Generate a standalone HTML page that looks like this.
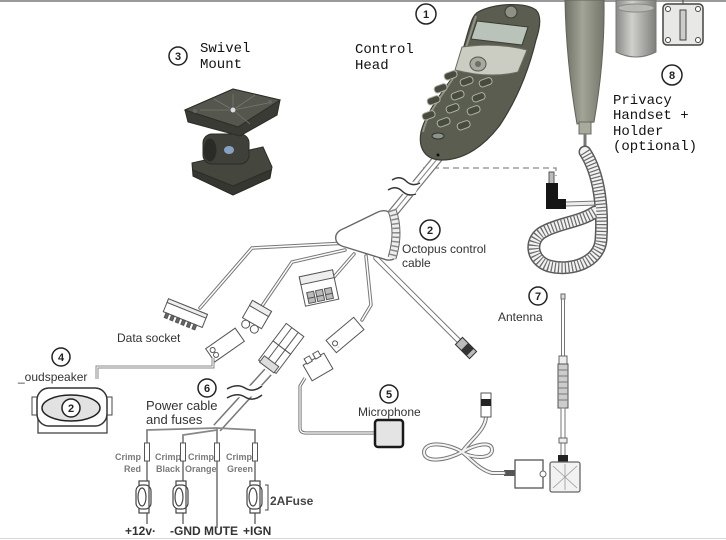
<!DOCTYPE html>
<html><head><meta charset="utf-8">
<style>
html,body{margin:0;padding:0;background:#fff;}
svg{display:block}
.mono{font-family:"Liberation Mono",monospace;font-size:14px;fill:#111}
.sans{font-family:"Liberation Sans",sans-serif;font-size:12px;fill:#333}
.num{font-family:"Liberation Sans",sans-serif;font-size:11px;font-weight:bold;fill:#222;text-anchor:middle}
.crimp{font-family:"Liberation Sans",sans-serif;font-size:9px;font-weight:bold;fill:#7a7a7a}
.bot{font-family:"Liberation Sans",sans-serif;font-size:12px;font-weight:bold;fill:#333}
</style></head><body>
<svg width="726" height="540" viewBox="0 0 726 540" xmlns="http://www.w3.org/2000/svg">
<defs>
<linearGradient id="hs" x1="0" x2="1" y1="0" y2="0">
<stop offset="0" stop-color="#6f7166"/><stop offset="0.45" stop-color="#a2a498"/><stop offset="1" stop-color="#74766a"/>
</linearGradient>
<linearGradient id="cup" x1="0" x2="1" y1="0" y2="0">
<stop offset="0" stop-color="#8a8a86"/><stop offset="0.4" stop-color="#cfcfcb"/><stop offset="1" stop-color="#7e7e7a"/>
</linearGradient>
</defs>
<rect width="726" height="540" fill="#fff"/>
<line x1="0" y1="1" x2="726" y2="1" stroke="#9a9a9a" stroke-width="2"/>
<line x1="0" y1="538.5" x2="726" y2="538.5" stroke="#d8d8d8" stroke-width="1"/>

<!-- Swivel mount -->
<g stroke="#2c2d27" stroke-width="1">
<polygon points="192,163 263,147 272,167 270,178 233,195 193,176" fill="#45463e"/>
<polygon points="193,170 233,186 270,170 270,178 233,195 193,176" fill="#35362f"/>
<rect x="203" y="134" width="46" height="30" rx="9" fill="#3f403a"/>
<ellipse cx="210" cy="150" rx="6" ry="11" fill="#2a2b26"/>
<ellipse cx="229" cy="150" rx="5" ry="4" fill="#8aa0c0" stroke="none"/>
<polygon points="185,110 233,89 280,100 277,115 240,136 188,122" fill="#3a3b34"/>
<polygon points="185,110 233,89 280,100 238,127" fill="#55564d"/>
</g>
<g stroke="#77786e" stroke-width="0.8">
<line x1="233" y1="110" x2="200" y2="110"/><line x1="233" y1="110" x2="233" y2="94"/>
<line x1="233" y1="110" x2="268" y2="103"/><line x1="233" y1="110" x2="250" y2="124"/>
<line x1="233" y1="110" x2="214" y2="99"/><line x1="233" y1="110" x2="255" y2="95"/>
</g>
<circle cx="233" cy="110" r="3" fill="#ddd" stroke="#555"/>
<circle cx="195" cy="111" r="2" fill="#666"/><circle cx="270" cy="102" r="2" fill="#666"/>

<!-- Labels top -->
<circle cx="178" cy="56" r="9" fill="#fff" stroke="#222" stroke-width="1.5"/>
<text x="178" y="60" class="num">3</text>
<text x="200" y="52" class="mono">Swivel</text>
<text x="200" y="68" class="mono">Mount</text>
<text x="355" y="53" class="mono">Control</text>
<text x="355" y="69" class="mono">Head</text>
<circle cx="426" cy="14" r="10" fill="#fff" stroke="#222" stroke-width="1.5"/>
<text x="426" y="18" class="num">1</text>

<!-- Handset & holder -->
<path d="M565,0 L604,0 Q605,60 594,122 L577,124 Q566,60 565,0Z" fill="url(#hs)" stroke="#62645a"/>
<rect x="579" y="122" width="12" height="12" fill="#a8aa9e" stroke="#6a6c62"/>
<line x1="585" y1="134" x2="585" y2="152" stroke="#777" stroke-width="3"/>
<path d="M616,0 L656,0 L656,52 Q636,62 616,52Z" fill="url(#cup)" stroke="#777"/>
<ellipse cx="636" cy="8" rx="18" ry="4" fill="#b8b8b4" stroke="#888"/>
<rect x="663" y="4" width="40" height="41" rx="4" fill="#e8e8e6" stroke="#444" stroke-width="1.5"/>
<circle cx="668" cy="9" r="2.5" fill="#fff" stroke="#444"/><circle cx="698" cy="9" r="2.5" fill="#fff" stroke="#444"/>
<circle cx="668" cy="40" r="2.5" fill="#fff" stroke="#444"/><circle cx="698" cy="40" r="2.5" fill="#fff" stroke="#444"/>
<rect x="680" y="10" width="6" height="30" fill="#ccc" stroke="#444"/>
<line x1="683" y1="0" x2="683" y2="4" stroke="#444"/>
<circle cx="672" cy="75" r="10" fill="#fff" stroke="#222" stroke-width="1.5"/>
<text x="672" y="79" class="num">8</text>
<text x="613" y="104" class="mono">Privacy</text>
<text x="613" y="119" class="mono">Handset +</text>
<text x="613" y="135" class="mono">Holder</text>
<text x="613" y="150" class="mono">(optional)</text>

<!-- dashed & jack -->
<path d="M423,168 H556 V176" fill="none" stroke="#8a8a8a" stroke-width="1.3" stroke-dasharray="6 4"/>
<rect x="549" y="172" width="5" height="12" fill="#bbb" stroke="#555"/>
<path d="M546,183 L558,183 L558,199 L566,199 L566,209 L546,209Z" fill="#151515"/>
<path d="M566,204 L598,203" stroke="#777" stroke-width="5" fill="none"/>
<path d="M566,204 L598,203" stroke="#eee" stroke-width="3" fill="none"/>

<!-- coil -->
<g fill="none" stroke-linecap="round">
<path d="M585,152 C600,175 603,210 601,240 C599,262 572,272 549,266 C530,260 529,238 545,231 C560,223 580,222 595,212" stroke="#5a5a5a" stroke-width="13"/>
<path d="M585,152 C600,175 603,210 601,240 C599,262 572,272 549,266 C530,260 529,238 545,231 C560,223 580,222 595,212" stroke="#f2f2f2" stroke-width="10"/>
<path d="M585,152 C600,175 603,210 601,240 C599,262 572,272 549,266 C530,260 529,238 545,231 C560,223 580,222 595,212" stroke="#6a6a6a" stroke-width="10" stroke-dasharray="1.2 2.2" stroke-linecap="butt"/>
</g>

<!-- head cable -->
<g fill="none" stroke-linecap="round">
<path d="M438,158 L392,214" stroke="#777" stroke-width="10"/>
<path d="M438,158 L392,214" stroke="#fff" stroke-width="7.5"/>
<path d="M438,158 L392,214" stroke="#888" stroke-width="1"/>
</g>
<polygon points="392,178 420,183 414,196 388,191" fill="#fff"/>
<path d="M392,180 Q400,175 406,181 T420,183" fill="none" stroke="#333" stroke-width="1.4"/>
<path d="M388,190 Q396,185 402,191 T416,194" fill="none" stroke="#333" stroke-width="1.4"/>

<!-- phone -->
<path d="M478,12 C495,3 525,2 536,10 C542,16 540,28 536,40 C530,65 520,95 500,125 C485,145 465,160 442,160 C425,160 418,148 421,132 C425,115 440,95 452,78 C462,60 466,35 472,20 C474,15 476,13 478,12 Z" fill="#5a5d50" stroke="#3a3c33" stroke-width="1.2"/>
<path d="M476,16 C470,35 463,60 452,80 C440,98 426,116 423,132" fill="none" stroke="#8f9284" stroke-width="2"/>
<circle cx="511" cy="12" r="6" fill="#8e9286" stroke="#3a3c33"/>
<polygon points="477,21 528,27 522,45 471,39" fill="#b9c3ba" stroke="#3a3c33"/>
<path d="M462,47 Q495,42 527,50 L518,72 Q490,79 455,70Z" fill="#cbccc2" stroke="#6a6c62"/>
<ellipse cx="478" cy="64" rx="8" ry="7" fill="#a8aaa0" stroke="#555"/>
<ellipse cx="478" cy="64" rx="3" ry="3" fill="#6d7064"/>
<g fill="#484b3f" stroke="#b0b2a6" stroke-width="1">
<rect x="444" y="72" width="13" height="7" rx="3" transform="rotate(-20 450 75)"/>
<rect x="460" y="78" width="13" height="7" rx="3" transform="rotate(-20 466 81)"/>
<rect x="479" y="79" width="13" height="7" rx="3" transform="rotate(-20 485 82)"/>
<rect x="434" y="85" width="13" height="7" rx="3" transform="rotate(-20 440 88)"/>
<rect x="451" y="92" width="13" height="7" rx="3" transform="rotate(-20 457 95)"/>
<rect x="472" y="94" width="13" height="7" rx="3" transform="rotate(-20 478 97)"/>
<rect x="427" y="97" width="13" height="7" rx="3" transform="rotate(-20 433 100)"/>
<rect x="446" y="105" width="13" height="7" rx="3" transform="rotate(-20 452 108)"/>
<rect x="467" y="107" width="13" height="7" rx="3" transform="rotate(-20 473 110)"/>
<rect x="422" y="112" width="13" height="7" rx="3" transform="rotate(-20 428 115)"/>
<rect x="437" y="119" width="13" height="7" rx="3" transform="rotate(-20 443 122)"/>
<rect x="457" y="122" width="13" height="7" rx="3" transform="rotate(-20 463 125)"/>
</g>
<ellipse cx="438" cy="136" rx="6" ry="3" fill="#8a9488" stroke="#333"/>
<circle cx="438" cy="155" r="1.5" fill="#111"/>

<!-- octopus hub -->
<g fill="none" stroke-linecap="round">
<path d="M347,243 L252,248 L200,308" stroke="#777" stroke-width="3.5"/>
<path d="M347,243 L252,248 L200,308" stroke="#fff" stroke-width="1.5"/>
<path d="M345,250 L292,262 L262,306" stroke="#777" stroke-width="3.5"/>
<path d="M345,250 L292,262 L262,306" stroke="#fff" stroke-width="1.5"/>
<path d="M354,254 L334,277" stroke="#777" stroke-width="3.5"/>
<path d="M354,254 L334,277" stroke="#fff" stroke-width="1.5"/>
<path d="M366,256 L371,305 L362,320" stroke="#777" stroke-width="3.5"/>
<path d="M366,256 L371,305 L362,320" stroke="#fff" stroke-width="1.5"/>
<path d="M376,258 L462,344" stroke="#777" stroke-width="5.5"/>
<path d="M376,258 L462,344" stroke="#fff" stroke-width="3.5"/>
</g>
<path d="M336,240 Q334,232 345,228 L378,212 Q388,208 392,216 L397,250 Q398,261 387,260 L345,247 Q337,245 336,240 Z" fill="#fff" stroke="#666" stroke-width="1.4"/>
<path d="M392,210 Q400,232 392,258" fill="none" stroke="#666" stroke-width="9"/>
<path d="M392,210 Q400,232 392,258" fill="none" stroke="#eee" stroke-width="7"/>
<path d="M392,210 Q400,232 392,258" fill="none" stroke="#888" stroke-width="7" stroke-dasharray="1.5 3"/>
<circle cx="430" cy="230" r="10" fill="#fff" stroke="#222" stroke-width="1.5"/>
<text x="430" y="234" class="num">2</text>
<text x="402" y="253" class="sans">Octopus control</text>
<text x="402" y="267" class="sans">cable</text>

<!-- antenna cable end -->
<g transform="translate(466,348) rotate(-45)">
<rect x="-5" y="-10" width="10" height="20" fill="#bbb" stroke="#333"/>
<rect x="-5" y="-2" width="10" height="8" fill="#333"/>
</g>

<!-- connectors -->
<g transform="translate(185,314) rotate(22)" stroke="#555" fill="#fff">
<rect x="-21" y="-8" width="42" height="14"/>
<rect x="-21" y="-8" width="42" height="4" fill="#eee"/>
<g fill="#666"><rect x="-18" y="6" width="3" height="5"/><rect x="-12" y="6" width="3" height="5"/><rect x="-6" y="6" width="3" height="5"/><rect x="0" y="6" width="3" height="5"/><rect x="6" y="6" width="3" height="5"/><rect x="12" y="6" width="3" height="5"/></g>
</g>
<g transform="translate(255,318) rotate(30)" stroke="#555" fill="#fff">
<rect x="-11" y="-14" width="22" height="20"/>
<rect x="-11" y="-14" width="22" height="6" fill="#eee"/>
<circle cx="-5" cy="10" r="4"/><circle cx="5" cy="10" r="4"/>
</g>
<g transform="translate(319,288) rotate(-12)" stroke="#555" fill="#fff">
<rect x="-17" y="-15" width="34" height="30"/>
<rect x="-17" y="-15" width="34" height="8" fill="#eee"/>
<g fill="#bbb"><rect x="-13" y="2" width="7" height="6"/><rect x="-4" y="2" width="7" height="6"/><rect x="5" y="2" width="7" height="6"/><rect x="-13" y="8" width="7" height="5"/><rect x="-4" y="8" width="7" height="5"/><rect x="5" y="8" width="7" height="5"/></g>
</g>
<g transform="translate(345,335) rotate(-40)" stroke="#555" fill="#fff">
<rect x="-18" y="-8" width="36" height="16"/>
<circle cx="-13" cy="0" r="2.5"/><circle cx="-13" cy="5" r="0.1"/>
</g>
<g transform="translate(225,345) rotate(-35)" stroke="#555" fill="#fff">
<rect x="-18" y="-8" width="36" height="16"/>
<circle cx="-13" cy="-3" r="2.5"/><circle cx="-13" cy="3" r="2.5"/>
</g>
<g transform="translate(280,350) rotate(37)" stroke="#555" fill="#fff">
<rect x="-11" y="-25" width="22" height="22"/>
<rect x="-11" y="-3" width="22" height="24"/>
<line x1="-4" y1="-25" x2="-4" y2="21"/><line x1="4" y1="-25" x2="4" y2="21"/>
<rect x="-9" y="14" width="18" height="8" fill="#ddd"/>
</g>
<g transform="translate(318,367) rotate(-30)" stroke="#555" fill="#fff">
<rect x="-12" y="-9" width="24" height="18"/>
<rect x="-8" y="-14" width="6" height="6"/><rect x="2" y="-14" width="6" height="6"/>
</g>

<!-- microphone -->
<path d="M305,378 L300,386 L300,428 Q300,433 306,433 L375,433" fill="none" stroke="#777" stroke-width="3.2"/>
<path d="M305,378 L300,386 L300,428 Q300,433 306,433 L375,433" fill="none" stroke="#fff" stroke-width="1.2"/>
<rect x="375" y="420" width="28" height="27" rx="3" fill="#e4e4e4" stroke="#1a1a1a" stroke-width="2.5"/>
<circle cx="389" cy="394" r="9" fill="#fff" stroke="#222" stroke-width="1.5"/>
<text x="389" y="398" class="num">5</text>
<text x="358" y="416" class="sans">Microphone</text>

<!-- loudspeaker -->
<path d="M213,358 L213,367 L97,367 L97,379" fill="none" stroke="#888" stroke-width="3"/>
<path d="M213,358 L213,367 L97,367 L97,379" fill="none" stroke="#fff" stroke-width="1"/>
<rect x="32" y="397" width="6" height="18" fill="#fff" stroke="#444"/>
<rect x="106" y="397" width="6" height="18" fill="#fff" stroke="#444"/>
<rect x="38" y="416" width="69" height="17" fill="#fff" stroke="#444" stroke-width="1.3"/>
<rect x="37" y="388" width="70" height="38" rx="12" fill="#fff" stroke="#333" stroke-width="1.5"/>
<ellipse cx="71" cy="408" rx="29" ry="13" fill="#e2e2e2" stroke="#222" stroke-width="1.5"/>
<circle cx="71" cy="408" r="9" fill="#fff" stroke="#222" stroke-width="1.5"/>
<text x="71" y="412" class="num">2</text>
<circle cx="61" cy="357" r="9" fill="#fff" stroke="#222" stroke-width="1.5"/>
<text x="61" y="361" class="num">4</text>
<text x="18" y="381" class="sans">_oudspeaker</text>
<text x="117" y="342" class="sans">Data socket</text>

<!-- power cable -->
<path d="M268,372 L217,428" stroke="#777" stroke-width="10" fill="none"/>
<path d="M268,372 L217,428" stroke="#fff" stroke-width="7" fill="none"/>
<polygon points="227,387 262,385 262,396 227,398" fill="#fff"/>
<path d="M227,389 Q237,383 245,388 T262,386" fill="none" stroke="#333" stroke-width="1.5"/>
<path d="M227,398 Q237,392 245,397 T262,395" fill="none" stroke="#333" stroke-width="1.5"/>
<circle cx="207" cy="388" r="9" fill="#fff" stroke="#222" stroke-width="1.5"/>
<text x="207" y="392" class="num">6</text>
<text x="146" y="410" class="sans" style="font-size:13px">Power cable</text>
<text x="146" y="424" class="sans" style="font-size:13px">and fuses</text>

<g fill="none" stroke="#888" stroke-width="1.8">
<path d="M217,428 L147,430 L147,482"/>
<path d="M217,428 L255,430 L255,482"/>
<path d="M217,430 L183,435 L183,482"/>
<path d="M217,428 L217,528"/>
<path d="M147,510 L147,524"/><path d="M183,510 L183,524"/><path d="M255,510 L255,524"/>
</g>
<g fill="#fff" stroke="#555" stroke-width="1">
<rect x="144.5" y="443" width="5" height="18"/><rect x="180.5" y="443" width="5" height="18"/>
<rect x="214.5" y="443" width="5" height="18"/><rect x="252.5" y="443" width="5" height="18"/>
</g>
<text x="115" y="460" class="crimp">Crimp</text><text x="124" y="472" class="crimp">Red</text>
<text x="155" y="460" class="crimp">Crimp</text><text x="156" y="472" class="crimp">Black</text>
<text x="188" y="460" class="crimp">Crimp</text><text x="185" y="472" class="crimp">Orange</text>
<text x="226" y="460" class="crimp">Crimp</text><text x="227" y="472" class="crimp">Green</text>

<g fill="#fff" stroke="#444" stroke-width="1.2">
<g transform="translate(143,497)"><rect x="-4" y="-16" width="10" height="5"/><rect x="-4" y="11" width="10" height="5"/><rect x="-7" y="-12" width="15" height="24" rx="6"/><ellipse cx="-1" cy="0" rx="4" ry="9"/><line x1="6" y1="-10" x2="6" y2="10"/></g>
<g transform="translate(180,497)"><rect x="-4" y="-16" width="10" height="5"/><rect x="-4" y="11" width="10" height="5"/><rect x="-7" y="-12" width="15" height="24" rx="6"/><ellipse cx="-1" cy="0" rx="4" ry="9"/><line x1="6" y1="-10" x2="6" y2="10"/></g>
<g transform="translate(254,497)"><rect x="-4" y="-16" width="10" height="5"/><rect x="-4" y="11" width="10" height="5"/><rect x="-7" y="-12" width="15" height="24" rx="6"/><ellipse cx="-1" cy="0" rx="4" ry="9"/><line x1="6" y1="-10" x2="6" y2="10"/></g>
</g>
<path d="M265,485 L268,485 L268,510 L265,510" fill="none" stroke="#444"/>
<text x="270" y="505" class="bot" style="fill:#444">2AFuse</text>
<text x="125" y="535" class="bot">+12v·</text>
<text x="170" y="535" class="bot">-GND</text>
<text x="204" y="535" class="bot">MUTE</text>
<text x="243" y="535" class="bot">+IGN</text>

<!-- antenna -->
<circle cx="538" cy="296" r="9" fill="#fff" stroke="#222" stroke-width="1.5"/>
<text x="538" y="300" class="num">7</text>
<text x="498" y="321" class="sans">Antenna</text>
<rect x="561" y="294" width="4" height="5" fill="#ddd" stroke="#666"/>
<rect x="561.5" y="299" width="3" height="60" fill="#fff" stroke="#777"/>
<rect x="559" y="356" width="8" height="8" fill="#eee" stroke="#666"/>
<rect x="558" y="364" width="10" height="44" fill="#ccc" stroke="#555"/>
<g stroke="#777" stroke-width="1"><line x1="558" y1="370" x2="568" y2="370"/><line x1="558" y1="376" x2="568" y2="376"/><line x1="558" y1="382" x2="568" y2="382"/><line x1="558" y1="388" x2="568" y2="388"/><line x1="558" y1="394" x2="568" y2="394"/><line x1="558" y1="400" x2="568" y2="400"/></g>
<rect x="561" y="408" width="4" height="48" fill="#fff" stroke="#777"/>
<rect x="559" y="438" width="8" height="5" fill="#eee" stroke="#666"/>
<rect x="558" y="455" width="10" height="8" fill="#222"/>
<rect x="550" y="462" width="30" height="30" rx="2" fill="#f2f2f2" stroke="#666" stroke-width="1.3"/>
<g stroke="#999" stroke-width="0.8"><line x1="553" y1="466" x2="577" y2="488"/><line x1="577" y1="466" x2="553" y2="488"/><line x1="565" y1="464" x2="565" y2="490"/></g>

<!-- small box and cable -->
<rect x="515" y="460" width="28" height="28" fill="#fff" stroke="#555" stroke-width="1.3"/>
<circle cx="543" cy="474" r="3" fill="#fff" stroke="#666"/>
<rect x="504" y="470" width="11" height="6" fill="#555"/>
<g fill="none" stroke-linecap="round">
<path d="M504,473 L492,473 C480,470 472,460 462,452 C450,444 425,440 424,452 C424,464 448,460 462,452 C474,445 492,440 492,450 C492,460 470,458 462,452 C470,440 486,430 486,416" stroke="#777" stroke-width="4"/>
<path d="M504,473 L492,473 C480,470 472,460 462,452 C450,444 425,440 424,452 C424,464 448,460 462,452 C474,445 492,440 492,450 C492,460 470,458 462,452 C470,440 486,430 486,416" stroke="#f4f4f4" stroke-width="2"/>
</g>
<rect x="481" y="393" width="10" height="24" fill="#fff" stroke="#555"/>
<rect x="481" y="399" width="10" height="7" fill="#222"/>
</svg>
</body></html>
